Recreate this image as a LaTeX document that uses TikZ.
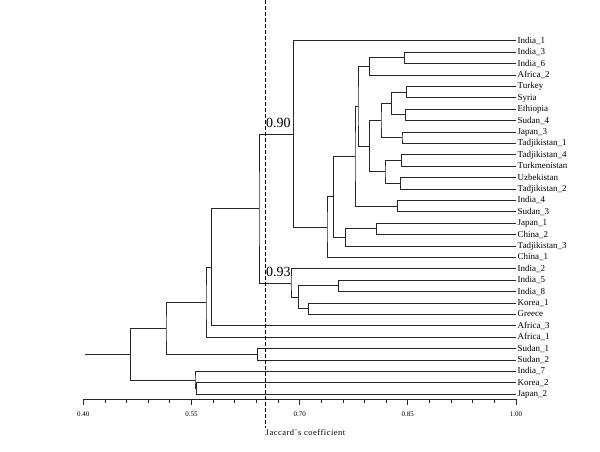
\documentclass[tikz,border=0pt]{standalone}
\usepackage{fontspec}
\setmainfont{Liberation Serif}
\usetikzlibrary{calc}
% elbow join of two children at height #4
\newcommand{\joinpair}[4]{%
    \path let \p1=(#1), \p2=(#2) in ({#4pt},{0.5*\y1+0.5*\y2}) coordinate (#3);
    \draw[branch] (#1) -| (#3) |- (#2);
}
\begin{document}
\begin{tikzpicture}[x=1pt,y=-1pt,
    branch/.style={line width=0.7pt,color=black!85},
    leaf/.style={anchor=west,inner sep=1.5pt,text height=6pt,text depth=1pt,font=\fontsize{9}{9}\selectfont},
    ticklabel/.style={inner sep=0pt,font=\fontsize{7}{7}\selectfont},
    cutlabel/.style={anchor=base west,inner sep=0pt,font=\fontsize{14}{14}\selectfont}]
    \useasboundingbox (0,0) rectangle (600,451);
    \foreach \name/\txt [count=\i from 0] in {india1/India\_1, india3/India\_3, india6/India\_6, africa2/Africa\_2,
        turkey/Turkey, syria/Syria, ethiopia/Ethiopia, sudan4/Sudan\_4, japan3/Japan\_3, tadj1/Tadjikistan\_1,
        tadj4/Tadjikistan\_4, turkmen/Turkmenistan, uzbek/Uzbekistan, tadj2/Tadjikistan\_2, india4/India\_4,
        sudan3/Sudan\_3, japan1/Japan\_1, china2/China\_2, tadj3/Tadjikistan\_3, china1/China\_1, india2/India\_2,
        india5/India\_5, india8/India\_8, korea1/Korea\_1, greece/Greece, africa3/Africa\_3, africa1/Africa\_1,
        sudan1/Sudan\_1, sudan2/Sudan\_2, india7/India\_7, korea2/Korea\_2, japan2/Japan\_2}
        \node[leaf] (\name) at (516,{40.7+11.4*\i}) {\txt};
    % upper cluster
    \joinpair{india3.west}{india6.west}{in36}{404.5}
    \joinpair{in36}{africa2.west}{grpA}{369.3}
    \joinpair{turkey.west}{syria.west}{tusy}{406.7}
    \joinpair{ethiopia.west}{sudan4.west}{etsu}{405.7}
    \joinpair{tusy}{etsu}{tses}{391.7}
    \joinpair{japan3.west}{tadj1.west}{jata}{402}
    \joinpair{tses}{jata}{grpB1}{381}
    \joinpair{tadj4.west}{turkmen.west}{tatu}{401.5}
    \joinpair{uzbek.west}{tadj2.west}{uzta}{400.7}
    \joinpair{tatu}{uzta}{grpB2}{385}
    \joinpair{grpB1}{grpB2}{grpB}{369.3}
    \joinpair{grpA}{grpB}{grpC}{358}
    \joinpair{india4.west}{sudan3.west}{insu}{397.7}
    \joinpair{grpC}{insu}{grpD}{355}
    \joinpair{japan1.west}{china2.west}{jach}{376.7}
    \joinpair{jach}{tadj3.west}{grpF}{345.5}
    \joinpair{grpD}{grpF}{grpE}{333.3}
    \joinpair{grpE}{china1.west}{grpG}{327}
    \joinpair{india1.west}{grpG}{grpH}{293.5}
    % lower cluster
    \joinpair{india5.west}{india8.west}{in58}{338.3}
    \joinpair{korea1.west}{greece.west}{kogr}{308.3}
    \joinpair{in58}{kogr}{grpK}{298.3}
    \joinpair{india2.west}{grpK}{grpL}{291}
    \joinpair{grpH}{grpL}{grpM}{259}
    \joinpair{grpM}{africa3.west}{grpN}{211.7}
    \joinpair{grpN}{africa1.west}{grpO}{206}
    \joinpair{sudan1.west}{sudan2.west}{grpP}{257.3}
    \joinpair{grpO}{grpP}{grpQ}{166}
    \joinpair{korea2.west}{japan2.west}{koja}{196.7}
    \joinpair{india7.west}{koja}{grpR}{195}
    \joinpair{grpQ}{grpR}{root}{130.7}
    \draw[branch] (root) -- ++(-45.7,0);
    % axis
    \draw[branch] (83.3,399) -- (516,399);
    \foreach \i in {0,...,20}
        \draw[branch] ({83.3+21.635*\i},399) -- ++(0,3.5);
    \foreach \i/\v in {0/0.40,5/0.55,10/0.70,15/0.85,20/1.00} {
        \draw[branch] ({83.3+21.635*\i},399) -- ++(0,6);
        \node[ticklabel] (tick\i) at ({83.3+21.635*\i},414) {\v};
    }
    \draw[line width=0.7pt,dash pattern=on 3.5pt off 2.5pt] (265.3,0) -- (265.3,428);
    \node[anchor=west,inner sep=0pt,font=\fontsize{8.5}{8.5}\selectfont\addfontfeature{LetterSpace=6}] (xtitle) at (265.5,433) {Jaccard´s coefficient};
    \node[cutlabel] (cut90) at (265.8,127) {0.90};
    \node[cutlabel] (cut93) at (265.8,276) {0.93};
\end{tikzpicture}
\end{document}
